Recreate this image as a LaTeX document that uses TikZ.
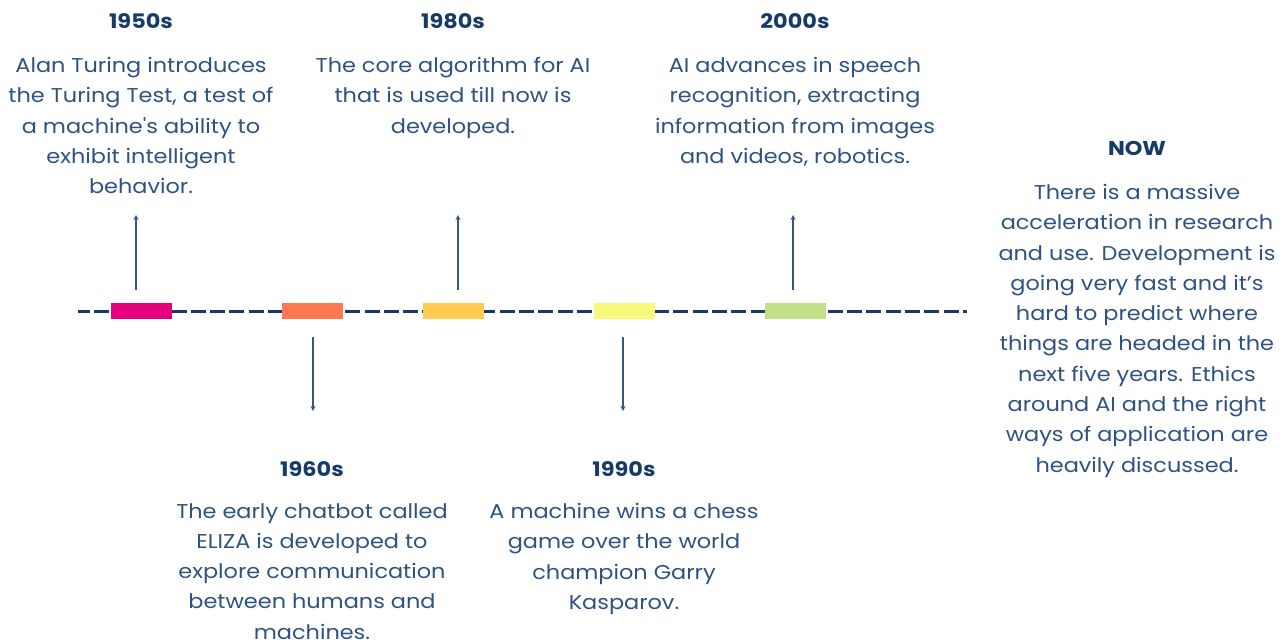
\documentclass[tikz,border=0pt]{standalone}
\usepackage{fontspec}
\setmainfont{Poppins}[FakeStretch=1.12, Ligatures=TeXOff]
\usetikzlibrary{arrows.meta}
\definecolor{navy}{HTML}{163A6A}
\definecolor{bodyc}{HTML}{2E5283}
\definecolor{cpink}{HTML}{E6007E}
\definecolor{corange}{HTML}{FF7850}
\definecolor{cgold}{HTML}{FFCC4F}
\definecolor{cyellow}{HTML}{F8F87A}
\definecolor{cgreen}{HTML}{C2DE86}
\tikzset{
  title/.style={font=\fontsize{20}{24}\selectfont\bfseries, text=navy, inner sep=0pt, anchor=center},
  body/.style={font=\fontsize{20}{30.3}\selectfont, text=bodyc, align=center, inner sep=0pt, anchor=north},
  era/.style={minimum width=61pt, minimum height=16pt, inner sep=0pt, draw=none},
  link/.style={draw=navy!85, line width=1.1pt, -{Stealth[length=5pt,width=5pt]}},
  axis/.style={draw=navy, line width=3pt, dash pattern=on 15pt off 4.3pt, dash phase=3pt}
}
\begin{document}
\begin{tikzpicture}[x=1pt,y=-1pt]
\path[use as bounding box, fill=white] (0,0) rectangle (1287,643);
% axis
\coordinate (L) at (78,311);
\coordinate (R) at (967,311);
\draw[axis] (L) -- (R);
% era boxes
\node[era, fill=cpink]   (e50) at (141.5,311) {};
\node[era, fill=corange] (e60) at (312.5,311) {};
\node[era, fill=cgold]   (e80) at (453.5,311) {};
\node[era, fill=cyellow] (e90) at (624.5,311) {};
\node[era, fill=cgreen]  (e00) at (795.5,311) {};
% arrow anchors
\coordinate (a50s) at (136,290); \coordinate (a50e) at (136,215);
\coordinate (a60s) at (313,337); \coordinate (a60e) at (313,411);
\coordinate (a80s) at (458,290); \coordinate (a80e) at (458,215);
\coordinate (a90s) at (623,337); \coordinate (a90e) at (623,411);
\coordinate (a00s) at (793,290); \coordinate (a00e) at (793,215);
\draw[link] (a50s) -- (a50e);
\draw[link] (a60s) -- (a60e);
\draw[link] (a80s) -- (a80e);
\draw[link] (a90s) -- (a90e);
\draw[link] (a00s) -- (a00e);
% titles
\node[title] (t50) at (141,21) {1950s};
\node[title] (t80) at (453,21) {1980s};
\node[title] (t00) at (795,21) {2000s};
\node[title] (t60) at (312,469) {1960s};
\node[title] (t90) at (624,469) {1990s};
\node[title] (tnow) at (1137,148) {NOW};
% bodies
\node[body] (b50) at (141,57) {Alan Turing introduces\\the Turing Test, a test of\\a machine's ability to\\exhibit intelligent\\behavior.};
\node[body] (b80) at (453,57) {The core algorithm for AI\\that is used till now is\\developed.};
\node[body] (b00) at (795,57) {AI advances in speech\\recognition, extracting\\information from images\\and videos, robotics.};
\node[body] (b60) at (312,503) {The early chatbot called\\ELIZA is developed to\\explore communication\\between humans and\\machines.};
\node[body] (b90) at (624,503) {A machine wins a chess\\game over the world\\champion Garry\\Kasparov.};
\node[body] (bnow) at (1137,184) {There is a massive\\acceleration in research\\and use. Development is\\going very fast and it’s\\hard to predict where\\things are headed in the\\next five years. Ethics\\around AI and the right\\ways of application are\\heavily discussed.};
\end{tikzpicture}
\end{document}
